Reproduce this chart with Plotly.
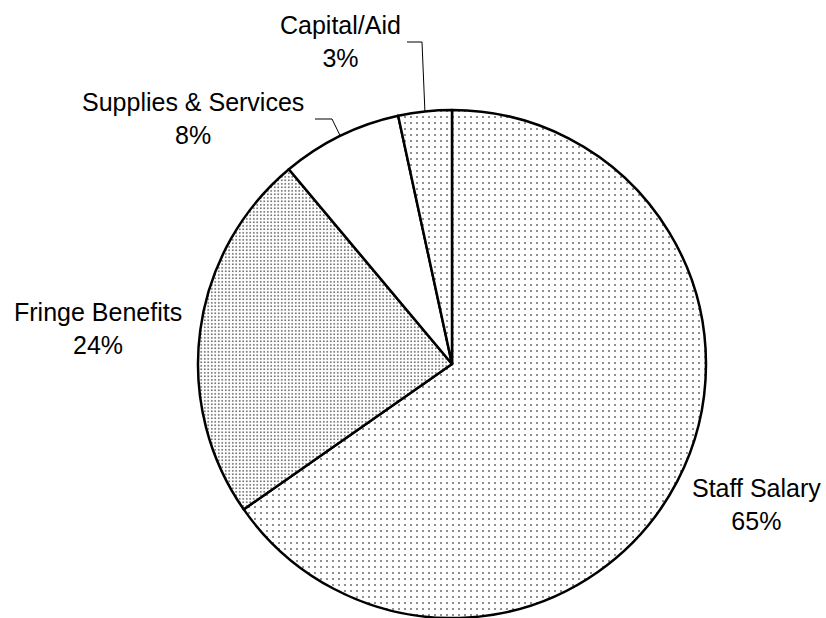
import math
import plotly.graph_objects as go

# ---- data ----
categories = ["Staff Salary", "Fringe Benefits", "Supplies & Services", "Capital/Aid"]
values = [65.3, 23.6, 7.7, 3.4]
pct_labels = ["65%", "24%", "8%", "3%"]

# ---- layout constants (pixels, from top-left) ----
W, H = 826, 618
CX, R = 452, 254
CY = H - R  # pie sits on the bottom edge of the domain

patterns = [
    dict(shape=".", size=6, solidity=0.06),
    dict(shape=".", size=3.5, solidity=0.14),
    dict(shape="", size=6, solidity=0.05),
    dict(shape=".", size=6, solidity=0.06),
]

label_pos = {  # centre of label block in px
    "Staff Salary": (756, 504),
    "Fringe Benefits": (98, 328),
    "Supplies & Services": (193, 118),
    "Capital/Aid": (340, 42),
}
leader_elbow = {  # (start x, elbow x, y) in px
    "Supplies & Services": (315, 332, 119),
    "Capital/Aid": (407, 422, 42),
}


def px2paper(x, y):
    return x / W, 1 - y / H


fig = go.Figure(
    go.Pie(
        labels=categories,
        values=values,
        sort=False,
        direction="clockwise",
        rotation=0,
        textinfo="none",
        hoverinfo="label+percent",
        marker=dict(
            colors=["white"] * 4,
            line=dict(color="black", width=2.5),
            pattern=dict(
                shape=[p["shape"] for p in patterns],
                size=[p["size"] for p in patterns],
                solidity=[p["solidity"] for p in patterns],
                fgcolor="black",
                bgcolor="white",
            ),
        ),
        domain=dict(x=[(CX - R) / W, (CX + R) / W], y=[0, 2 * R / H]),
        showlegend=False,
    )
)

annotations = []
shapes = []
total = sum(values)
cum = 0
for cat, v, p in zip(categories, values, pct_labels):
    mid = (cum + v / 2) / total * 2 * math.pi
    cum += v
    lx, ly = label_pos[cat]
    ax, ay = px2paper(lx, ly)
    annotations.append(
        dict(
            x=ax, y=ay, xref="paper", yref="paper",
            text=f"{cat}<br>{p}", showarrow=False,
            xanchor="center", yanchor="middle", align="center",
            font=dict(family="Liberation Sans, Arial, sans-serif", size=25, color="black"),
        )
    )
    if cat in leader_elbow:
        sx, ex, ey = leader_elbow[cat]
        arc_x = CX + R * math.sin(mid)
        arc_y = CY - R * math.cos(mid)
        pts = [px2paper(sx, ey), px2paper(ex, ey), px2paper(arc_x, arc_y)]
        path = "M {} {} L {} {} L {} {}".format(*[c for pt in pts for c in pt])
        shapes.append(
            dict(type="path", path=path, xref="paper", yref="paper",
                 line=dict(color="black", width=1))
        )

fig.update_layout(
    width=W, height=H,
    margin=dict(l=0, r=0, t=0, b=0),
    paper_bgcolor="white", plot_bgcolor="white",
    annotations=annotations, shapes=shapes,
)

fig.write_html(
    "out.html",
    config={"displayModeBar": False},
    post_script="document.body.style.margin='0';document.body.style.overflow='hidden';",
)
